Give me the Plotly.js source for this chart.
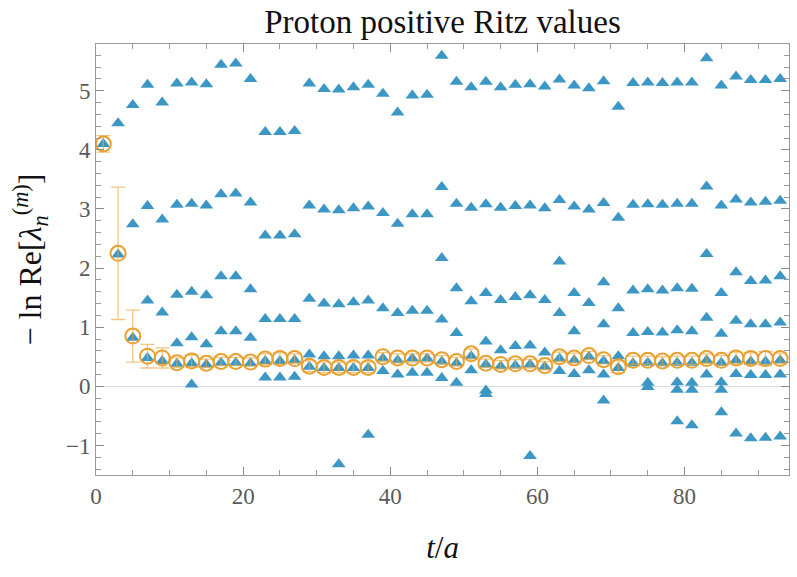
<!DOCTYPE html>
<html>
<head>
<meta charset="utf-8">
<script src="https://cdn.plot.ly/plotly-3.0.1.min.js"></script>
<style>html,body{margin:0;padding:0;background:#fff;}#chart{width:797px;height:577px;}</style>
</head>
<body>
<div id="chart"></div>
<script>
// Euclidean time separations t/a
const tValues = [1,3,5,7,9,11,13,15,17,19,21,23,25,27,29,31,33,35,37,39,41,43,45,47,49,51,53,55,57,59,61,63,65,67,69,71,73,75,77,79,81,83,85,87,89,91,93];

// Ritz values (-ln Re[lambda]) sorted from top to bottom at each t
const ritzLevel1 = [4.10,4.45,4.76,5.10,4.80,5.12,5.14,5.11,5.44,5.46,5.20, 4.30,4.30,4.32,5.12,5.03,5.02,5.06,5.10,4.95,4.63,4.92,4.93, 5.59,5.15,5.06,5.15,5.06,5.10,5.11,5.07,5.19,5.09,5.04,5.16, 4.73,5.13,5.14,5.13,5.14,5.14,5.55,5.09,5.24,5.18,5.18,5.20];
const ritzLevel2 = [null,2.23,2.74,3.05,2.82,3.07,3.09,3.06,3.25,3.26,3.11, 2.55,2.55,2.57,3.06,2.99,2.98,3.01,3.04,2.93,2.75,2.91,2.91, 3.37,3.09,3.02,3.08,3.02,3.05,3.06,3.01,3.15,3.04,2.99,3.10, 2.85,3.07,3.08,3.07,3.09,3.09,3.38,3.06,3.16,3.11,3.12,3.14];
const ritzLevel3 = [null,null,0.82,1.45,1.25,1.55,1.60,1.54,1.86,1.86,1.64, 1.14,1.14,1.14,1.48,1.40,1.39,1.42,1.45,1.32,1.24,1.28,1.28, 2.17,1.66,1.44,1.58,1.46,1.51,1.54,1.46,2.11,1.58,1.41,1.76, 1.32,1.62,1.64,1.62,1.66,1.65,2.24,1.58,1.93,1.78,1.79,1.86];
const ritzLevel4 = [null,null,null,0.48,0.43,0.73,0.83,0.71,0.93,0.93,0.82, 0.43,0.43,0.44,0.54,0.51,0.51,0.52,0.52,0.47,0.44,0.47,0.47, 1.13,0.90,0.51,0.76,0.61,0.68,0.69,0.57,1.24,0.93,0.50,1.05, 0.51,0.90,0.92,0.91,0.95,0.93,1.16,0.89,1.11,1.05,1.05,1.08];
const ritzLevel5 = [null,null,null,null,null,0.38,0.39,0.37,0.40,0.40,0.39, 0.15,0.15,0.16,0.33,0.31,0.31,0.31,0.31,0.26,0.20,0.23,0.23, 0.42,0.39,0.27,0.37,0.34,0.35,0.37,0.33,0.47,0.44,0.27,0.43, 0.31,0.39,0.40,0.39,0.40,0.40,0.44,0.40,0.44,0.42,0.42,0.44];
const ritzLevel6 = [null,null,null,null,null,null,0.03,null,null,null,null, null,null,null,null,null,-1.32,null,-0.82,null,null,null,null, 0.14,0.06,null,-0.07,null,null,-1.18,null,0.26,0.21,null,0.20, null,null,0.06,null,0.07,0.06,0.20,0.07,0.21,0.19,0.19,0.20];
const ritzLevel7 = [null,null,null,null,null,null,null,null,null,null,null, null,null,null,null,null,null,null,null,null,null,null,null, null,null,null,-0.13,null,null,null,null,null,null,null,-0.24, null,null,-0.01,null,-0.06,-0.06,null,-0.06,-0.80,-0.88,-0.87,-0.85];
const ritzLevel8 = [null,null,null,null,null,null,null,null,null,null,null, null,null,null,null,null,null,null,null,null,null,null,null, null,null,null,null,null,null,null,null,null,null,null,null, null,null,null,null,-0.59,-0.66,null,-0.44,null,null,null,null];

// Ground-state estimate with uncertainty
const groundValues = [4.10,2.25,0.85,0.51,0.48,0.40,0.43,0.39,0.42,0.42,0.41, 0.46,0.47,0.47,0.34,0.32,0.32,0.32,0.32,0.50,0.48,0.48,0.48, 0.45,0.42,0.55,0.39,0.37,0.38,0.38,0.35,0.50,0.48,0.52,0.45, 0.33,0.44,0.44,0.43,0.44,0.44,0.47,0.44,0.48,0.47,0.47,0.47];
const groundErrors = [0.14,1.12,0.44,0.20,0.17,0.08,0.10,0.07,0.07,0.07,0.07, 0.09,0.10,0.08,0.09,0.09,0.09,0.09,0.09,0.07,0.07,0.07,0.07, 0.07,0.07,0.08,0.07,0.07,0.07,0.07,0.07,0.08,0.08,0.07,0.07, 0.10,0.07,0.07,0.07,0.07,0.07,0.08,0.08,0.10,0.10,0.12,0.09];

const levels = [ritzLevel1,ritzLevel2,ritzLevel3,ritzLevel4,ritzLevel5,ritzLevel6,ritzLevel7,ritzLevel8];
const triX = [], triY = [];
levels.forEach(lv => lv.forEach((v,i) => { if (v !== null) { triX.push(tValues[i]); triY.push(v); } }));

const blue = '#3d97c4';
const orange = '#e9a02f';
const serif = 'Liberation Serif';

const traces = [
  {
    type: 'scatter', mode: 'markers', x: triX, y: triY,
    marker: {symbol: 'triangle-up', size: 12, color: blue, line: {width: 0}},
    hoverinfo: 'x+y', showlegend: false
  },
  {
    type: 'scatter', mode: 'markers', x: tValues, y: groundValues,
    error_y: {type: 'data', array: groundErrors, visible: true, color: 'rgba(236,168,60,0.65)', thickness: 1.3, width: 7},
    marker: {symbol: 'circle-open', size: 15, color: orange, line: {width: 2, color: orange}},
    showlegend: false
  }
];

const axisCommon = {
  showline: true, linecolor: '#9a9a9a', linewidth: 1, mirror: 'ticks',
  ticks: 'inside', ticklen: 8, tickwidth: 1, tickcolor: '#8a8a8a',
  showgrid: false, tickfont: {family: serif, size: 23, color: '#5a5a5a'}
};

const layout = {
  width: 797, height: 577,
  margin: {l: 96, r: 8, t: 44, b: 102},
  paper_bgcolor: '#fff', plot_bgcolor: '#fff',
  font: {family: serif},
  title: {text: 'Proton positive Ritz values', font: {family: serif, size: 33, color: '#111'},
          x: 0.5, xref: 'paper', xanchor: 'center', y: 1 - 21/577, yanchor: 'middle'},
  xaxis: Object.assign({}, axisCommon, {
    range: [0, 94.2], tickvals: [0,20,40,60,80], ticktext: ['0','20','40','60','80'],
    zeroline: false,
    minor: {dtick: 5, tick0: 0, ticks: 'inside', ticklen: 5, tickcolor: '#9a9a9a', showgrid: false},
    title: {text: '<i>t</i>/<i>a</i>', font: {family: serif, size: 31, color: '#111'}, standoff: 28}
  }),
  yaxis: Object.assign({}, axisCommon, {
    range: [-1.5, 5.79], tickvals: [-1,0,1,2,3,4,5], ticktext: ['\u22121','0','1','2','3','4','5'],
    zeroline: true, zerolinecolor: '#dcdcdc', zerolinewidth: 1,
    minor: {dtick: 0.2, tick0: 0, ticks: 'inside', ticklen: 5, tickcolor: '#9a9a9a', showgrid: false},
    title: {text: '\u2212 ln Re[<i>λ</i><sub><i>n</i></sub><sup>(<i>m</i>)</sup>]', font: {family: serif, size: 32, color: '#111'}, standoff: 14}
  })
};

Plotly.newPlot('chart', traces, layout, {staticPlot: true, displayModeBar: false});
</script>
</body>
</html>
